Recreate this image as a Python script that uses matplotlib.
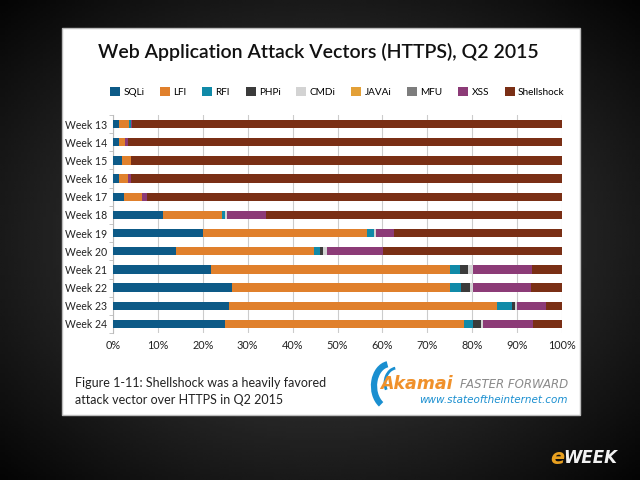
import numpy as np
import matplotlib.pyplot as plt
from matplotlib.patches import Rectangle, Arc

weeks = ["Week 13", "Week 14", "Week 15", "Week 16", "Week 17", "Week 18",
         "Week 19", "Week 20", "Week 21", "Week 22", "Week 23", "Week 24"]
vectors = ["SQLi", "LFI", "RFI", "PHPi", "CMDi", "JAVAi", "MFU", "XSS", "Shellshock"]

sqli = [1.3, 1.3, 2.0, 1.3, 2.4, 11.1, 20.1, 14.0, 21.8, 26.4, 25.9, 24.9]
lfi = [2.2, 1.4, 1.9, 2.0, 4.1, 13.2, 36.4, 30.8, 53.3, 48.7, 59.7, 53.3]
rfi = [0.4, 0.0, 0.0, 0.0, 0.0, 0.6, 1.6, 1.2, 2.2, 2.3, 3.2, 1.9]
phpi = [0.0, 0.0, 0.0, 0.0, 0.0, 0.0, 0.0, 0.8, 1.7, 2.0, 0.7, 1.8]
cmdi = [0.0, 0.0, 0.0, 0.0, 0.0, 0.4, 0.5, 0.8, 1.2, 0.7, 0.5, 0.6]
javai = [0.0] * 12
mfu = [0.0] * 12
xss = [0.3, 0.7, 0.0, 0.8, 1.1, 8.8, 4.0, 12.6, 13.1, 12.9, 6.4, 11.1]
shellshock = [100 - sum(v) for v in zip(sqli, lfi, rfi, phpi, cmdi, javai, mfu, xss)]

series = [sqli, lfi, rfi, phpi, cmdi, javai, mfu, xss, shellshock]
colors = ["#0d5a87", "#e0802c", "#108aa8", "#3b3b3b", "#d3d3d3",
          "#e3a037", "#7d7d7d", "#8c3b77", "#7a2f15"]

fig = plt.figure(figsize=(6.4, 4.8), dpi=100)

# dark vignette background
bg = fig.add_axes([0, 0, 1, 1])
yy, xx = np.mgrid[-1:1:200j, -1:1:200j]
r = np.sqrt(xx ** 2 + yy ** 2)
bg.imshow(0.3 - 0.2 * r, cmap="gray", vmin=0, vmax=1, aspect="auto",
          extent=[0, 1, 0, 1])
bg.set_xlim(0, 1)
bg.set_ylim(0, 1)
bg.axis("off")

# white card
bg.add_patch(Rectangle((62 / 640, 1 - 415 / 480), 518 / 640, 387 / 480,
                       facecolor="white", edgecolor="#bbbbbb", lw=1, zorder=2))

fig.text(0.497, 1 - 52 / 480, "Web Application Attack Vectors (HTTPS), Q2 2015",
         ha="center", va="center", fontsize=14, family="Lato",
         fontweight="semibold", color="#111111")

ax = fig.add_axes([113 / 640, 1 - 333 / 480, 449 / 640, 218 / 480])
ax.set_facecolor("white")
y = np.arange(len(weeks))
left = np.zeros(len(weeks))
for name, vals, c in zip(vectors, series, colors):
    ax.barh(y, vals, left=left, height=0.45, color=c, label=name, zorder=3)
    left += np.array(vals)

ax.set_xlim(0, 100)
ax.set_ylim(len(weeks) - 0.5, -0.5)
ax.set_yticks(y)
ax.set_yticklabels(weeks, fontsize=7.6, family="Lato", color="#222222")
ax.set_xticks(np.arange(0, 101, 10))
ax.set_xticklabels([f"{v}%" for v in range(0, 101, 10)], fontsize=7.8,
                   family="Lato", color="#222222")
ax.grid(axis="x", color="#cccccc", lw=0.8, zorder=0)
for s in ["top", "right", "bottom"]:
    ax.spines[s].set_visible(False)
ax.spines["left"].set_color("#bbbbbb")
ax.tick_params(axis="x", length=0, pad=5)
ax.set_yticks(np.arange(-0.5, len(weeks), 1), minor=True)
ax.tick_params(axis="y", which="minor", length=3, color="#bbbbbb")
ax.tick_params(axis="y", which="major", length=0, pad=4)

handles, labels = ax.get_legend_handles_labels()
fig.legend(handles, labels, loc="center", bbox_to_anchor=(0.527, 1 - 92 / 480),
           ncol=9, frameon=False, handlelength=1.0, handleheight=1.0,
           handletextpad=0.35, columnspacing=1.55,
           prop={"family": "Lato", "size": 7.2})

# caption
fig.text(75 / 640, 1 - 383 / 480, "Figure 1-11: Shellshock was a heavily favored",
         fontsize=9, family="Lato", va="center", color="#222222")
fig.text(75 / 640, 1 - 400 / 480, "attack vector over HTTPS in Q2 2015",
         fontsize=9, family="Lato", va="center", color="#222222")

# Akamai logo
bg.add_patch(Arc((390 / 640, 1 - 386 / 480), 32 / 640, 44 / 480, theta1=95,
                 theta2=250, color="#1a8fd0", lw=4.5, zorder=4))
bg.add_patch(Arc((397 / 640, 1 - 383 / 480), 24 / 640, 30 / 480, theta1=95,
                 theta2=220, color="#1a8fd0", lw=2, zorder=4))
fig.text(380 / 640, 1 - 384 / 480, "Akamai", fontsize=12.5, fontweight="bold",
         style="italic", color="#f0912b", va="center", family="DejaVu Sans")
fig.text(568 / 640, 1 - 385 / 480, "FASTER FORWARD", fontsize=8.5,
         style="italic", color="#8a8a8a", ha="right", va="center",
         family="DejaVu Sans")
fig.text(568 / 640, 1 - 400 / 480, "www.stateoftheinternet.com", fontsize=7.5,
         style="italic", color="#1a8fd0", ha="right", va="center",
         family="DejaVu Sans")

# eWEEK logo
fig.text(550 / 640, 1 - 458 / 480, "e", fontsize=15, fontweight="bold",
         style="italic", color="#e8a020", ha="left", va="center",
         family="DejaVu Sans")
fig.text(563 / 640, 1 - 458 / 480, "WEEK", fontsize=12, fontweight="bold",
         style="italic", color="#f2f2f2", ha="left", va="center",
         family="DejaVu Sans")

fig.savefig("out.png", dpi=100)
